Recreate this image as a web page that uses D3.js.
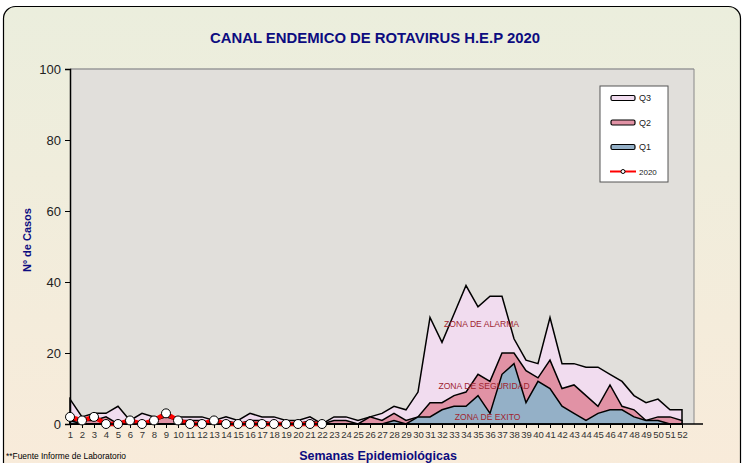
<!DOCTYPE html>
<html>
<head>
<meta charset="utf-8">
<script src="https://cdn.jsdelivr.net/npm/d3@7"></script>
<style>
  body { margin: 0; background: #fff; }
  svg { display: block; font-family: "Liberation Sans", Arial, sans-serif; }
</style>
</head>
<body>
<div id="chart"></div>
<script>
// semanas 1..52
const weeks = d3.range(1, 53);
const q3 = [7,2,3,3,5,1,3,2,2,2,2,2,1,2,1,3,2,2,1,1,2,0,2,2,1,2,3,5,4,9,30,23,31,39,33,36,36,24,18,17,30,17,17,16,16,14,12,8,6,7,4,4];
const q2 = [1,1,1,2,0,1,0,1,2,1,1,1,0,1,0,1,1,0,0,0,1,0,1,1,0,2,1,3,1,2,6,6,8,9,14,12,20,20,15,13,18,10,11,8,5,11,5,4,1,2,2,1];
const q1 = [1,0,0,0,0,0,0,0,0,0,0,0,0,0,0,0,0,0,0,0,0,0,0,0,0,0,0,1,0,2,2,4,5,5,8,3,14,17,6,12,10,5,3,1,3,4,4,2,1,1,0,0];
const y2020 = [2,1,2,0,0,1,0,1,3,1,0,0,1,0,0,0,0,0,0,0,0,0];
const yTicks = [0, 20, 40, 60, 80, 100];

const W = 744, H = 463;
const margin = {top: 69, left: 70, bottom: 39, right: 50};
const plotW = 624, plotH = H - margin.top - margin.bottom;

const svg = d3.select("#chart").append("svg")
    .attr("width", W)
    .attr("height", H);

const defs = svg.append("defs");
const grad = defs.append("linearGradient")
    .attr("id", "bg")
    .attr("x1", 0).attr("y1", 0).attr("x2", 0).attr("y2", 1);
grad.append("stop").attr("offset", "0%").attr("stop-color", "#ebeedd");
grad.append("stop").attr("offset", "100%").attr("stop-color", "#f9ebda");

svg.append("rect")
    .attr("x", 3.5).attr("y", 6.5)
    .attr("width", W - 7).attr("height", H + 20)
    .attr("rx", 12)
    .attr("fill", "url(#bg)")
    .attr("stroke", "#000")
    .attr("stroke-width", 1.2);

svg.append("text")
    .attr("x", 375).attr("y", 43)
    .attr("text-anchor", "middle")
    .attr("font-size", 14)
    .attr("font-weight", "bold")
    .attr("fill", "#0c0c80")
    .attr("textLength", 330)
    .attr("lengthAdjust", "spacingAndGlyphs")
    .text("CANAL ENDEMICO DE ROTAVIRUS H.E.P 2020");

const x = d3.scaleLinear().domain([1, 53]).range([margin.left, margin.left + plotW]);
const y = d3.scaleLinear().domain([0, 100]).range([margin.top + plotH, margin.top]);

const g = svg.append("g");

// plot background
g.append("rect")
    .attr("x", x(1)).attr("y", y(100))
    .attr("width", plotW).attr("height", plotH)
    .attr("fill", "#e1dfdb");
g.append("line")
    .attr("x1", x(1)).attr("x2", x(53))
    .attr("y1", y(100)).attr("y2", y(100))
    .attr("stroke", "#999").attr("stroke-width", 1.5);
g.append("line")
    .attr("x1", x(53)).attr("x2", x(53))
    .attr("y1", y(100)).attr("y2", y(0))
    .attr("stroke", "#888").attr("stroke-width", 1);

const area = d3.area()
    .x((d, i) => x(weeks[i]))
    .y0(y(0))
    .y1(d => y(d));

const series = [
    {name: "Q3", values: q3, fill: "#f1dcef"},
    {name: "Q2", values: q2, fill: "#e192a5"},
    {name: "Q1", values: q1, fill: "#94b0c7"}
];

series.forEach(s => {
    g.append("path")
        .datum(s.values)
        .attr("d", area)
        .attr("fill", s.fill)
        .attr("stroke", "#000")
        .attr("stroke-width", 1.5)
        .attr("stroke-linejoin", "miter");
});

// zone labels
const zones = [
    {t: "ZONA DE ALARMA", w: 35.3, v: 27.3},
    {t: "ZONA DE SEGURIDAD", w: 35.5, v: 9.9},
    {t: "ZONA DE EXITO", w: 35.8, v: 1.1}
];
g.selectAll(".zone")
    .data(zones)
    .enter()
    .append("text")
    .attr("class", "zone")
    .attr("x", d => x(d.w))
    .attr("y", d => y(d.v))
    .attr("text-anchor", "middle")
    .attr("font-size", 8.6)
    .attr("fill", "#a0252f")
    .text(d => d.t);

// axes
const yAxis = d3.axisLeft(y).tickValues(yTicks).tickSize(5).tickPadding(4);
const ya = svg.append("g")
    .attr("transform", "translate(" + x(1) + ",0)")
    .call(yAxis);
ya.select(".domain").attr("stroke", "#000").attr("stroke-width", 1.5);
ya.selectAll("line").attr("stroke", "#000");
ya.selectAll("text").attr("font-size", 13).attr("fill", "#222")
    .attr("font-family", "Liberation Sans, Arial, sans-serif");

const xAxis = d3.axisBottom(x).tickValues(weeks).tickFormat(d3.format("d")).tickSize(4).tickPadding(3);
const xa = svg.append("g")
    .attr("transform", "translate(0," + y(0) + ")")
    .call(xAxis);
xa.select(".domain").attr("stroke", "#000").attr("stroke-width", 1.5)
    .attr("d", "M" + x(1) + ",0H" + (x(53) + 9));
xa.selectAll("line").attr("stroke", "#000");
xa.selectAll("text").attr("font-size", 9.5).attr("fill", "#333")
    .attr("font-family", "Liberation Sans, Arial, sans-serif");

// 2020 line
const line = d3.line()
    .x((d, i) => x(weeks[i]))
    .y(d => y(d));
g.append("path")
    .datum(y2020)
    .attr("d", line)
    .attr("fill", "none")
    .attr("stroke", "#ff0000")
    .attr("stroke-width", 4.5);
svg.append("g").selectAll("circle")
    .data(y2020)
    .enter()
    .append("circle")
    .attr("cx", (d, i) => x(weeks[i]))
    .attr("cy", d => y(d))
    .attr("r", 4.5)
    .attr("fill", "#fff")
    .attr("stroke", "#000")
    .attr("stroke-width", 1);

// axis titles
svg.append("text")
    .attr("transform", "translate(31,240) rotate(-90)")
    .attr("text-anchor", "middle")
    .attr("font-size", 11)
    .attr("font-weight", "bold")
    .attr("fill", "#0c0c80")
    .text("Nº de Casos");
svg.append("text")
    .attr("x", 378).attr("y", 460)
    .attr("text-anchor", "middle")
    .attr("font-size", 12.5)
    .attr("font-weight", "bold")
    .attr("fill", "#0c0c80")
    .text("Semanas Epidemiológicas");
svg.append("text")
    .attr("x", 6).attr("y", 459)
    .attr("font-size", 9)
    .attr("fill", "#000")
    .attr("textLength", 120)
    .attr("lengthAdjust", "spacingAndGlyphs")
    .text("**Fuente Informe de Laboratorio");

// legend
const leg = svg.append("g").attr("transform", "translate(600,86)");
leg.append("rect")
    .attr("width", 68).attr("height", 96)
    .attr("fill", "#fff")
    .attr("stroke", "#555").attr("stroke-width", 1);
const legItems = series.concat([{name: "2020"}]);
legItems.forEach((s, i) => {
    const ly = 12 + i * 24.5;
    if (s.fill) {
        leg.append("rect")
            .attr("x", 11).attr("y", ly - 2.5)
            .attr("width", 24).attr("height", 5)
            .attr("rx", 1.5)
            .attr("fill", s.fill)
            .attr("stroke", "#000").attr("stroke-width", 1.2);
    } else {
        leg.append("line")
            .attr("x1", 10).attr("x2", 36)
            .attr("y1", ly).attr("y2", ly)
            .attr("stroke", "#ff0000").attr("stroke-width", 2);
        leg.append("circle")
            .attr("cx", 23).attr("cy", ly).attr("r", 2)
            .attr("fill", "#fff").attr("stroke", "#000").attr("stroke-width", 1);
    }
    leg.append("text")
        .attr("x", 39).attr("y", ly + 3)
        .attr("font-size", s.fill ? 9 : 8)
        .attr("fill", "#222")
        .text(s.name);
});
</script>
</body>
</html>
